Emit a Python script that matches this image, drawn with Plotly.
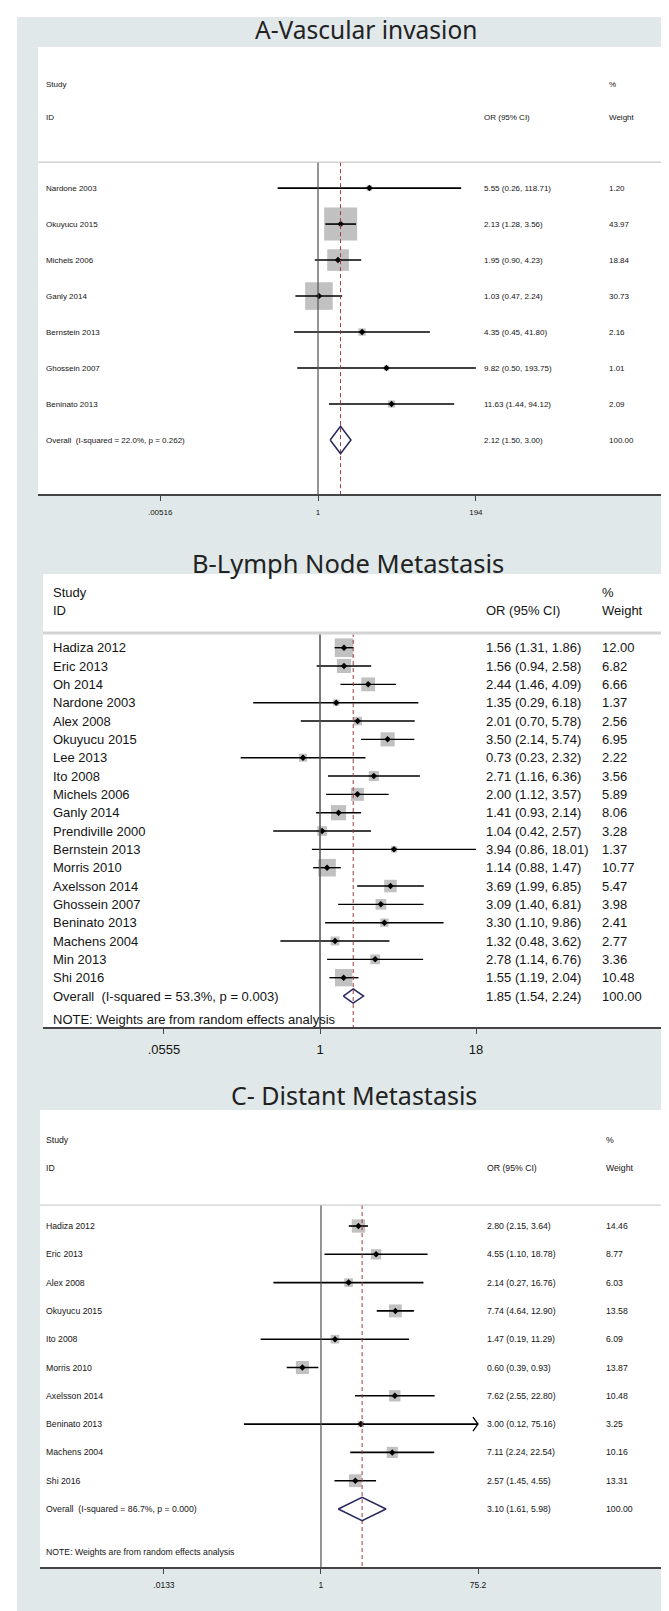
import plotly.graph_objects as go


# DATA ###########################################################################################

a_studies = ['Nardone 2003', 'Okuyucu 2015', 'Michels 2006', 'Ganly 2014',
             'Bernstein 2013', 'Ghossein 2007', 'Beninato 2013']
a_or = [5.55, 2.13, 1.95, 1.03, 4.35, 9.82, 11.63]
a_lo = [0.26, 1.28, 0.90, 0.47, 0.45, 0.50, 1.44]
a_hi = [118.71, 3.56, 4.23, 2.24, 41.80, 193.75, 94.12]
a_weight = [1.20, 43.97, 18.84, 30.73, 2.16, 1.01, 2.09]
a_overall = [2.12, 1.50, 3.00]
a_overall_label = 'Overall  (I-squared = 22.0%, p = 0.262)'
a_ticks = [0.00516, 1, 194]
a_ticktext = ['.00516', '1', '194']
a_arrows = []

b_studies = ['Hadiza 2012', 'Eric 2013', 'Oh 2014', 'Nardone 2003', 'Alex 2008',
             'Okuyucu 2015', 'Lee 2013', 'Ito 2008', 'Michels 2006', 'Ganly 2014',
             'Prendiville 2000', 'Bernstein 2013', 'Morris 2010', 'Axelsson 2014',
             'Ghossein 2007', 'Beninato 2013', 'Machens 2004', 'Min 2013', 'Shi 2016']
b_or = [1.56, 1.56, 2.44, 1.35, 2.01, 3.50, 0.73, 2.71, 2.00, 1.41,
        1.04, 3.94, 1.14, 3.69, 3.09, 3.30, 1.32, 2.78, 1.55]
b_lo = [1.31, 0.94, 1.46, 0.29, 0.70, 2.14, 0.23, 1.16, 1.12, 0.93,
        0.42, 0.86, 0.88, 1.99, 1.40, 1.10, 0.48, 1.14, 1.19]
b_hi = [1.86, 2.58, 4.09, 6.18, 5.78, 5.74, 2.32, 6.36, 3.57, 2.14,
        2.57, 18.01, 1.47, 6.85, 6.81, 9.86, 3.62, 6.76, 2.04]
b_weight = [12.00, 6.82, 6.66, 1.37, 2.56, 6.95, 2.22, 3.56, 5.89, 8.06,
            3.28, 1.37, 10.77, 5.47, 3.98, 2.41, 2.77, 3.36, 10.48]
b_overall = [1.85, 1.54, 2.24]
b_overall_label = 'Overall  (I-squared = 53.3%, p = 0.003)'
b_ticks = [0.0555, 1, 18]
b_ticktext = ['.0555', '1', '18']
b_arrows = []

c_studies = ['Hadiza 2012', 'Eric 2013', 'Alex 2008', 'Okuyucu 2015', 'Ito 2008',
             'Morris 2010', 'Axelsson 2014', 'Beninato 2013', 'Machens 2004', 'Shi 2016']
c_or = [2.80, 4.55, 2.14, 7.74, 1.47, 0.60, 7.62, 3.00, 7.11, 2.57]
c_lo = [2.15, 1.10, 0.27, 4.64, 0.19, 0.39, 2.55, 0.12, 2.24, 1.45]
c_hi = [3.64, 18.78, 16.76, 12.90, 11.29, 0.93, 22.80, 75.16, 22.54, 4.55]
c_weight = [14.46, 8.77, 6.03, 13.58, 6.09, 13.87, 10.48, 3.25, 10.16, 13.31]
c_overall = [3.10, 1.61, 5.98]
c_overall_label = 'Overall  (I-squared = 86.7%, p = 0.000)'
c_ticks = [0.0133, 1, 75.2]
c_ticktext = ['.0133', '1', '75.2']
c_arrows = ['Beninato 2013']

note = 'NOTE: Weights are from random effects analysis'

W, H = 669, 1611
BG = '#e0e8e9'
TXT = '#141414'
FONT = 'Liberation Sans, Arial'


# DEFINITIONS ####################################################################################

def px_x(p):
    return p / W


def px_y(p):
    return 1 - p / H


def add_panel(fig, n, cfg):
    xa = 'x' if n == 1 else 'x%d' % n
    ya = 'y' if n == 1 else 'y%d' % n
    studies, ors, los, his, ws = cfg['data']
    ov, ov_lo, ov_hi = cfg['overall']
    cap = cfg['ticks'][-1]
    rows = list(range(len(studies)))
    ov_row = len(studies)
    y_bottom = cfg['yr'][0]

    # boxes
    fig.add_trace(go.Scatter(x=ors, y=rows, mode='markers', xaxis=xa, yaxis=ya,
                             marker=dict(symbol='square', color='#a7a7a7',
                                         size=[cfg['box_k'] * w ** 0.5 for w in ws],
                                         line=dict(width=0)),
                             hoverinfo='skip', showlegend=False))
    # confidence intervals
    for i, (lo, hi) in enumerate(zip(los, his)):
        fig.add_trace(go.Scatter(x=[lo, min(hi, cap)], y=[i, i], mode='lines',
                                 xaxis=xa, yaxis=ya,
                                 line=dict(color='black', width=cfg['ci_w']),
                                 hoverinfo='skip', showlegend=False))
        if studies[i] in cfg['arrows']:
            d = 10 ** cfg['arrow_dx']
            fig.add_trace(go.Scatter(x=[cap / d, cap, cap / d],
                                     y=[i - cfg['arrow_h'], i, i + cfg['arrow_h']],
                                     mode='lines', xaxis=xa, yaxis=ya,
                                     line=dict(color='black', width=1.3),
                                     hoverinfo='skip', showlegend=False))
    # point estimates
    fig.add_trace(go.Scatter(x=ors, y=rows, mode='markers', xaxis=xa, yaxis=ya,
                             marker=dict(symbol='diamond', color='black', size=cfg['pt']),
                             hoverinfo='skip', showlegend=False))
    # null line and overall line
    fig.add_trace(go.Scatter(x=[1, 1], y=[cfg['sep'], y_bottom], mode='lines',
                             xaxis=xa, yaxis=ya,
                             line=dict(color='#4f4f4f', width=cfg['null_w']),
                             hoverinfo='skip', showlegend=False))
    fig.add_trace(go.Scatter(x=[ov, ov], y=[cfg['sep'], y_bottom], mode='lines',
                             xaxis=xa, yaxis=ya,
                             line=dict(color='#a33a3a', width=1, dash='4px,3px'),
                             hoverinfo='skip', showlegend=False))
    # overall diamond
    h = cfg['dia_h']
    fig.add_trace(go.Scatter(x=[ov_lo, ov, ov_hi, ov, ov_lo],
                             y=[ov_row, ov_row - h, ov_row, ov_row + h, ov_row],
                             mode='lines', xaxis=xa, yaxis=ya,
                             line=dict(color='#27275e', width=1.5),
                             hoverinfo='skip', showlegend=False))

    # separator under the header
    fig.add_shape(type='line', xref=xa + ' domain', yref=ya, x0=0, x1=1,
                  y0=cfg['sep'], y1=cfg['sep'],
                  line=dict(color=cfg['sep_c'], width=cfg['sep_w']))

    f = dict(family=FONT, size=cfg['fs'], color=TXT)
    xl, xo, xw = px_x(cfg['col_x'][0]), px_x(cfg['col_x'][1]), px_x(cfg['col_x'][2])

    def txt(x, y, s):
        fig.add_annotation(x=x, y=y, xref='paper', yref=ya, text=s, showarrow=False,
                           xanchor='left', yanchor='middle', font=f)

    txt(xl, cfg['hdr'][0], 'Study')
    txt(xl, cfg['hdr'][1], 'ID')
    txt(xo, cfg['hdr'][1], 'OR (95% CI)')
    txt(xw, cfg['hdr'][0], '%')
    txt(xw, cfg['hdr'][1], 'Weight')
    for i, s in enumerate(studies):
        txt(xl, i, s)
        txt(xo, i, '%.2f (%.2f, %.2f)' % (ors[i], los[i], his[i]))
        txt(xw, i, '%.2f' % ws[i])
    txt(xl, ov_row, cfg['ov_label'])
    txt(xo, ov_row, '%.2f (%.2f, %.2f)' % (ov, ov_lo, ov_hi))
    txt(xw, ov_row, '100.00')
    if cfg['note'] is not None:
        txt(xl, cfg['note'], note)

    # title
    fig.add_annotation(x=px_x(cfg['title_xy'][0]), y=px_y(cfg['title_xy'][1]),
                       xref='paper', yref='paper', text=cfg['title'], showarrow=False,
                       xanchor='center', yanchor='middle',
                       font=dict(family='Noto Sans', size=cfg['title_fs'], color='#222222'))

    x0, x1, yt, yb = cfg['box']
    key = '' if n == 1 else str(n)
    fig.layout['xaxis' + key] = dict(
        type='log', range=cfg['xr'], domain=[px_x(x0), px_x(x1)], anchor=ya,
        tickvals=cfg['ticks'], ticktext=cfg['ticktext'], showgrid=False, zeroline=False,
        showline=True, linecolor='#444444', linewidth=1.6, ticks='outside', ticklen=5,
        tickwidth=1.2, tickcolor='#444444', ticklabelstandoff=cfg['standoff'],
        tickfont=dict(family=FONT, size=cfg['tick_fs'], color=TXT))
    fig.layout['yaxis' + key] = dict(
        range=cfg['yr'], domain=[px_y(yb), px_y(yt)], anchor=xa, visible=False,
        showgrid=False, zeroline=False)


# panel A: rows at 176 + 36*i px, panel B: 640 + 18.33*i, panel C: 1218 + 28.3*i
panels = [
    dict(data=(a_studies, a_or, a_lo, a_hi, a_weight), overall=a_overall,
         ov_label=a_overall_label, ticks=a_ticks, ticktext=a_ticktext, arrows=a_arrows,
         title='A-Vascular invasion', title_xy=(358, 22), title_fs=24.5,
         box=(30, 662, 39, 486), xr=[-4.058, 5.101], yr=[8.5, -3.92],
         hdr=(-2.89, -1.97), sep=-0.72, sep_c='#bdbdbd', sep_w=1, note=None,
         col_x=(36, 474, 599), fs=8, tick_fs=8, box_k=4.98, ci_w=1.6, pt=5, null_w=1.2,
         dia_h=0.38, arrow_dx=0.06, arrow_h=0.25, standoff=5),
    dict(data=(b_studies, b_or, b_lo, b_hi, b_weight), overall=b_overall,
         ov_label=b_overall_label, ticks=b_ticks, ticktext=b_ticktext, arrows=b_arrows,
         title='B-Lymph Node Metastasis', title_xy=(340, 555), title_fs=25.5,
         box=(35, 657, 566, 1019), xr=[-2.229, 2.776], yr=[20.69, -4.02],
         hdr=(-3.0, -2.03), sep=-0.80, sep_c='#d4d4d4', sep_w=3, note=20.3,
         col_x=(43, 476, 592), fs=13, tick_fs=13, box_k=5.35, ci_w=1.4, pt=5, null_w=1.5,
         dia_h=0.39, arrow_dx=0.06, arrow_h=0.3, standoff=5),
    dict(data=(c_studies, c_or, c_lo, c_hi, c_weight), overall=c_overall,
         ov_label=c_overall_label, ticks=c_ticks, ticktext=c_ticktext, arrows=c_arrows,
         title='C- Distant Metastasis', title_xy=(346, 1087), title_fs=25,
         box=(32, 661, 1102, 1559), xr=[-3.357, 4.158], yr=[12.05, -4.10],
         hdr=(-3.04, -2.05), sep=-0.74, sep_c='#c4c4c4', sep_w=1, note=11.52,
         col_x=(36, 477, 596), fs=8.7, tick_fs=8.5, box_k=3.5, ci_w=1.6, pt=5, null_w=1.2,
         dia_h=0.41, arrow_dx=0.06, arrow_h=0.25, standoff=4),
]


def main():
    fig = go.Figure()
    for n, cfg in enumerate(panels, start=1):
        add_panel(fig, n, cfg)

    # thin white frame at top and left of the gray background
    fig.add_shape(type='rect', xref='paper', yref='paper', x0=0, x1=1, y0=px_y(9), y1=1,
                  fillcolor='white', line=dict(width=0), layer='below')
    fig.add_shape(type='rect', xref='paper', yref='paper', x0=0, x1=px_x(9), y0=0, y1=1,
                  fillcolor='white', line=dict(width=0), layer='below')

    fig.update_layout(width=W, height=H, autosize=False,
                      margin=dict(l=0, r=0, t=0, b=0),
                      paper_bgcolor=BG, plot_bgcolor='white', showlegend=False)
    fig.write_html('out.html')


main()
